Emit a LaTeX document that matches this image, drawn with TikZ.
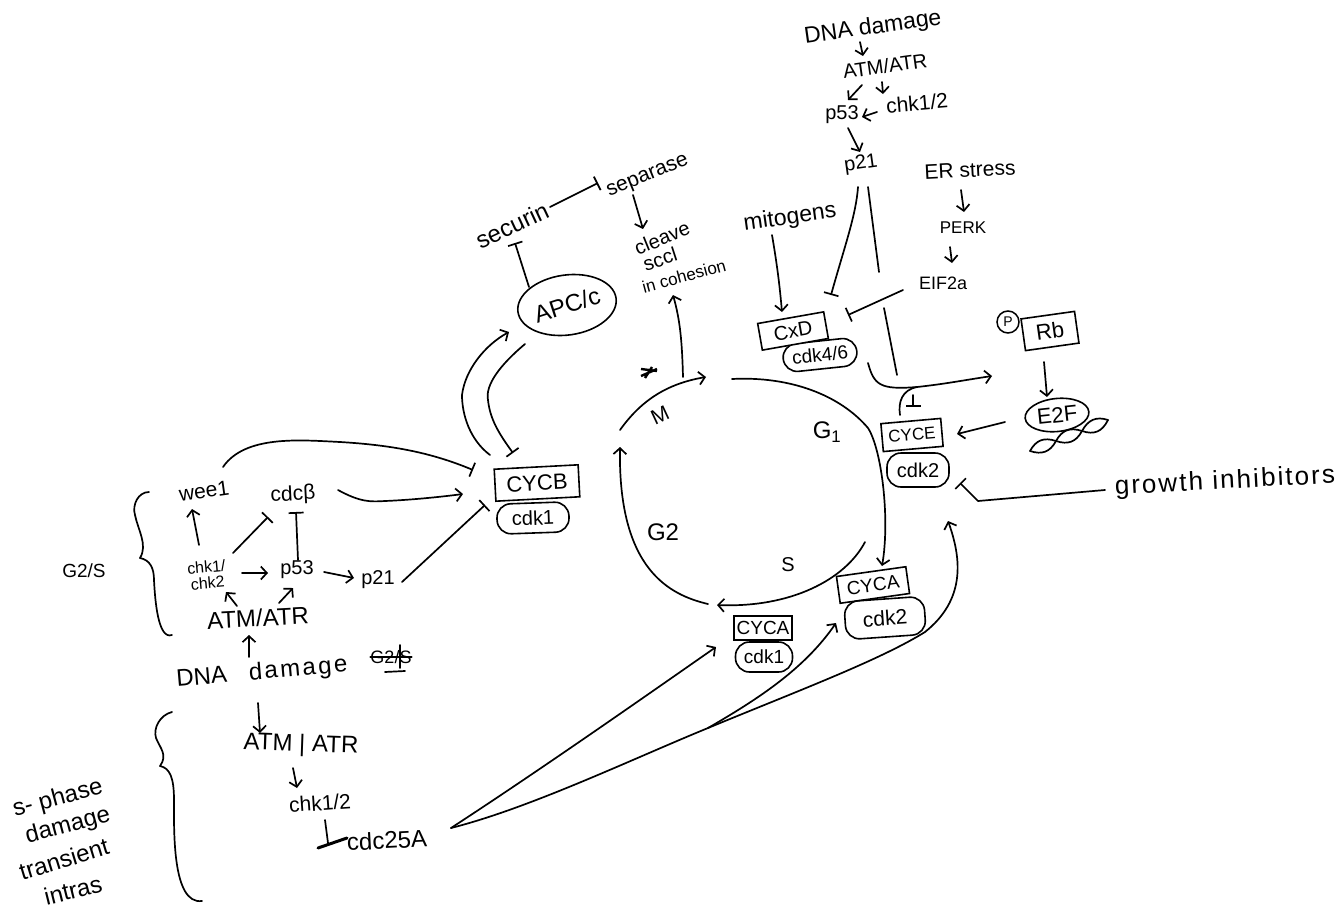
\documentclass[tikz,border=0pt]{standalone}
\usepackage{fontspec}
\setmainfont{Liberation Sans}
\usetikzlibrary{arrows.meta,shapes.geometric,calc}
\tikzset{
  sz/.style={font=\fontsize{#1}{#1}\selectfont},
  tx/.style={inner sep=0pt,align=center,sz=20},
  cbox/.style={draw,rectangle,inner sep=0pt,line width=1.6pt},
  coval/.style={draw,rectangle,rounded corners=14pt,inner sep=0pt,line width=1.6pt},
  eoval/.style={draw,ellipse,inner sep=0pt,line width=1.6pt},
  ln/.style={line width=1.7pt,line cap=round,line join=round},
  arr/.style={ln,-{Straight Barb[length=6pt,width=13pt,line width=1.7pt]}},
  tee/.style={ln,-{Bar[width=15pt,line width=1.7pt]}},
}
\begin{document}
\begin{tikzpicture}[x=1pt,y=-1pt]
\useasboundingbox (0,0) rectangle (1338,910);
% --- top cascade
\node[tx,sz=23,rotate=8] (dnaT) at (873,28) {DNA damage};
\node[tx,rotate=8] (atmT) at (885,66) {ATM/ATR};
\node[tx] (p53T) at (842,115) {p53};
\node[tx,sz=21,rotate=5] (chkT) at (917,103) {chk1/2};
\node[tx,rotate=8] (p21T) at (861,164) {p21};
\node[tx,sz=21,rotate=3] (er) at (970,170) {ER stress};
\node[tx,sz=17] (perk) at (963,228) {PERK};
\node[tx,sz=18] (eif) at (943,283) {EIF2a};
\node[tx,sz=23,rotate=8] (mito) at (790,218) {mitogens};
% --- G1 complexes
\node[coval,sz=19,rotate=6,minimum width=74pt,minimum height=28pt] (cdkF) at (820,355) {cdk4/6};
\node[cbox,sz=20,rotate=10,minimum width=67pt,minimum height=27pt,fill=white] (cxd) at (793,331) {CxD};
\node[cbox,sz=22,rotate=8,minimum width=54pt,minimum height=32pt] (rb) at (1050,331) {Rb};
\node[draw,circle,sz=14,inner sep=0pt,minimum size=22pt,line width=1.5pt,fill=white] (phos) at (1008,322) {P};
\node[eoval,sz=22,rotate=6,minimum width=64pt,minimum height=33pt] (etf) at (1057,415) {E2F};
\node[cbox,sz=17,rotate=5,minimum width=60pt,minimum height=28pt] (cyce) at (912,435) {CYCE};
\node[coval,sz=20,minimum width=62pt,minimum height=34pt] (cdkE) at (918,470) {cdk2};
\node[tx,sz=26,rotate=3] (grow) at (1225,482) {\addfontfeature{LetterSpace=8}growth inhibitors};
% --- left block
\node[tx,sz=21,rotate=8] (wee) at (204,491) {wee1};
\node[tx,sz=21,rotate=3] (cdc) at (293,495) {cdcβ};
\node[tx,sz=16,rotate=5] (chk) at (207,575) {chk1/\\chk2};
\node[tx] (p53L) at (297,570) {p53};
\node[tx] (p21L) at (378,580) {p21};
\node[tx,sz=24,rotate=3] (atmL) at (258,618) {ATM/ATR};
\node[tx,sz=24,rotate=5] (dnaL) at (262,673) {DNA\hspace{22pt}{\addfontfeature{LetterSpace=10}damage}};
\node[tx,sz=18] (crossed) at (391,657) {G2/S};
\node[tx,sz=19] (gs) at (84,571) {G2/S};
% --- lower left block
\node[tx,sz=24,rotate=-2] (atmS) at (301,745) {ATM | ATR};
\node[tx,sz=21,rotate=4] (chkS) at (320,803) {chk1/2};
\node[tx,sz=24,rotate=3] (cdcA) at (387,840) {cdc25A};
\node[tx,sz=24,rotate=15] (ph1) at (58,799) {s- phase};
\node[tx,sz=24,rotate=15] (ph2) at (68,826) {damage};
\node[tx,sz=24,rotate=17] (ph3) at (64,859) {transient};
\node[tx,sz=24,rotate=14] (ph4) at (73,890) {intras};
% --- mitosis block
\node[cbox,sz=22,rotate=3,minimum width=84pt,minimum height=32pt] (cycb) at (537,483) {CYCB};
\node[coval,sz=20,rotate=2,minimum width=72pt,minimum height=30pt] (cdkB) at (533,518) {cdk1};
\node[eoval,sz=24,rotate=8,minimum width=80pt,minimum height=60pt] (apc) at (567,305) {\rotatebox{10}{APC/c}};
\node[tx,sz=24,rotate=25] (sec) at (512,225) {securin};
\node[tx,sz=21,rotate=22] (sep) at (648,177) {separase};
\node[tx,rotate=22] (clv) at (662,238) {cleave};
\node[tx,rotate=18] (scc) at (660,259) {sccl};
\node[tx,sz=17,rotate=15] (coh) at (684,276) {in cohesion};
% --- phases
\node[tx,sz=21,rotate=25] (mL) at (660,415) {M};
\node[tx,sz=24] (gone) at (827,432) {G\textsubscript{1}};
\node[tx,sz=24] (gtwo) at (663,532) {G2};
\node[tx,sz=20] (sL) at (788,565) {S};
% --- cyclin A
\node[cbox,sz=19,minimum width=58pt,minimum height=24pt] (cycaO) at (763,628) {CYCA};
\node[coval,sz=19,minimum width=57pt,minimum height=30pt] (cdkO) at (764,657) {cdk1};
\node[cbox,sz=19,rotate=8,minimum width=70pt,minimum height=27pt] (cycaT) at (873,585) {CYCA};
\node[coval,sz=21,rotate=4,minimum width=80pt,minimum height=38pt] (cdkT) at (885,618) {cdk2};
% --- free ends
\coordinate (mS) at (620,430); \coordinate (mE) at (706,377);
\coordinate (gS) at (732,379); \coordinate (gM) at (868,428); \coordinate (gE) at (882,566);
\coordinate (sS) at (865,542); \coordinate (sE) at (717,605);
\coordinate (tS) at (708,604); \coordinate (tE) at (620,447);
\coordinate (mOut) at (683,377);
\coordinate (gapA) at (879,272); \coordinate (gapB) at (884,308); \coordinate (gapC) at (897,375);
\coordinate (tbS) at (913,395); \coordinate (tbE) at (913,407);
\coordinate (join) at (917,387);
\coordinate (branch) at (708,728); \coordinate (bendA) at (925,632);
\coordinate (teeS) at (325,820);
% --- cycle
\draw[arr] (mS) .. controls (640,402) and (665,384) .. (mE);
\draw[arr] (gS) .. controls (790,376) and (840,395) .. (gM) .. controls (882,450) and (890,520) .. (gE);
\draw[arr] (sS) .. controls (845,580) and (790,608) .. (sE);
\draw[arr] (tS) .. controls (670,595) and (618,570) .. (tE);
% --- top connectors
\draw[arr] ([shift={(-13,14)}]dnaT.center) -- ([shift={(-22,-10)}]atmT.center);
\draw[arr] ([shift={(-23,19)}]atmT.center) -- ([shift={(6,-15)}]p53T.center);
\draw[arr] ([shift={(-3,16)}]atmT.center) -- ([shift={(-34,-9)}]chkT.center);
\draw[arr] ([shift={(-40,9)}]chkT.center) -- ([shift={(20,2)}]p53T.center);
\draw[arr] ([shift={(6,13)}]p53T.center) -- ([shift={(-1,-12)}]p21T.center);
\draw[tee] ([shift={(-3,23)}]p21T.center) .. controls (856,215) and (845,245) .. ([shift={(38,-36)}]cxd.center);
\draw[ln] ([shift={(7,23)}]p21T.center) -- (gapA);
\draw[ln] (gapB) -- (gapC);
\draw[tee] (tbS) -- (tbE);
\draw[arr] ([shift={(-18,17)}]mito.center) .. controls (778,270) and (780,290) .. ([shift={(-11,-19)}]cxd.center);
\draw[tee] ([shift={(-40,7)}]eif.center) -- ([shift={(55,-16)}]cxd.center);
\draw[arr] ([shift={(-9,20)}]er.center) -- ([shift={(1,-16)}]perk.center);
\draw[arr] ([shift={(-13,19)}]perk.center) -- ([shift={(9,-20)}]eif.center);
\draw[arr] ([shift={(48,8)}]cdkF.center) .. controls (874,385) and (880,390) .. (join) .. controls (945,384) and (965,380) .. ([shift={(-58,45)}]rb.center);
\draw[ln] ([shift={(-12,-20)}]cyce.center) .. controls (898,402) and (902,390) .. (join);
\draw[arr] ([shift={(-6,31)}]rb.center) -- ([shift={(-10,-18)}]etf.center);
\draw[arr] ([shift={(-52,7)}]etf.center) -- ([shift={(45,-1)}]cyce.center);
\draw[tee] ([shift={(-120,8)}]grow.center) -- (978,501) -- ([shift={(42,13)}]cdkE.center);
% DNA helix
\draw[ln] (1030,451) .. controls (1036,440) and (1044,437) .. (1056,441) .. controls (1068,445) and (1076,442) .. (1082,431) .. controls (1088,420) and (1096,416) .. (1108,420);
\draw[ln] (1030,451) .. controls (1042,455) and (1050,452) .. (1056,441) .. controls (1062,430) and (1070,427) .. (1082,431) .. controls (1094,435) and (1102,432) .. (1108,420);
% --- left connectors
\draw[arr] ([shift={(-8,-30)}]chk.center) -- ([shift={(-12,18)}]wee.center);
\draw[tee] ([shift={(26,-22)}]chk.center) -- ([shift={(-25,22)}]cdc.center);
\draw[tee] ([shift={(1,-10)}]p53L.center) -- ([shift={(3,17)}]cdc.center);
\draw[arr] ([shift={(35,-2)}]chk.center) -- ([shift={(-29,3)}]p53L.center);
\draw[arr] ([shift={(27,2)}]p53L.center) -- ([shift={(-24,-2)}]p21L.center);
\draw[arr] ([shift={(-21,-12)}]atmL.center) -- ([shift={(19,17)}]chk.center);
\draw[arr] ([shift={(21,-15)}]atmL.center) -- ([shift={(-4,18)}]p53L.center);
\draw[arr] ([shift={(-13,-16)}]dnaL.center) -- ([shift={(-9,17)}]atmL.center);
\draw[tee] ([shift={(19,-24)}]wee.center) .. controls (245,435) and (300,440) .. (340,442) .. controls (390,445) and (430,452) .. ([shift={(-64,-13)}]cycb.center);
\draw[arr] ([shift={(45,-5)}]cdc.center) .. controls (360,502) and (370,502) .. (385,501) .. controls (410,500) and (440,497) .. ([shift={(-74,11)}]cycb.center);
\draw[tee] ([shift={(24,2)}]p21L.center) -- ([shift={(-52,22)}]cycb.center);
\draw[ln] (crossed.west) -- (crossed.east);
\draw[ln] ([shift={(9,-12)}]crossed.center) -- ([shift={(9,11)}]crossed.center);
\draw[ln] ([shift={(-6,15)}]crossed.center) -- ([shift={(14,14)}]crossed.center);
% braces
\draw[ln] (149,492) .. controls (138,492) and (132,505) .. (135,515) .. controls (138,530) and (148,545) .. (140,558) .. controls (150,560) and (154,568) .. (154,580) .. controls (155,600) and (158,640) .. (172,635);
\draw[ln] (172,712) .. controls (160,715) and (153,728) .. (156,738) .. controls (160,748) and (168,755) .. (160,766) .. controls (170,768) and (174,778) .. (174,800) .. controls (174,830) and (172,905) .. (202,901);
% --- lower left connectors
\draw[arr] ([shift={(-4,30)}]dnaL.center) -- ([shift={(-41,-12)}]atmS.center);
\draw[arr] ([shift={(-8,23)}]atmS.center) -- ([shift={(-23,-15)}]chkS.center);
\draw[ln] (teeS) -- ([shift={(-59,3)}]cdcA.center);
\draw[line width=3pt,line cap=round] ([shift={(-69,8)}]cdcA.center) -- ([shift={(-40,-2)}]cdcA.center);
\draw[arr] ([shift={(64,-12)}]cdcA.center) .. controls (540,770) and (640,700) .. ([shift={(-47,19)}]cycaO.center);
\draw[ln] ([shift={(64,-12)}]cdcA.center) .. controls (530,808) and (630,760) .. (branch);
\draw[arr] (branch) .. controls (760,698) and (805,668) .. ([shift={(-49,5)}]cdkT.center);
\draw[arr] (branch) .. controls (800,690) and (880,660) .. (bendA) .. controls (965,600) and (962,560) .. ([shift={(30,51)}]cdkE.center);
% --- mitosis connectors
\draw[arr] ([shift={(-47,-28)}]cycb.center) .. controls (470,440) and (462,415) .. (462,395) .. controls (465,370) and (485,345) .. ([shift={(-58,27)}]apc.center);
\draw[tee] ([shift={(-42,39)}]apc.center) .. controls (500,365) and (485,385) .. (488,400) .. controls (490,420) and (500,435) .. ([shift={(-24,-30)}]cycb.center);
\draw[tee] ([shift={(-38,-18)}]apc.center) -- ([shift={(3,18)}]sec.center);
\draw[tee] ([shift={(38,-18)}]sec.center) -- ([shift={(-50,6)}]sep.center);
\draw[arr] ([shift={(-15,18)}]sep.center) -- ([shift={(-19,-9)}]clv.center);
\draw[arr] (mOut) .. controls (682,340) and (680,320) .. ([shift={(-11,19)}]coh.center);
% blot near M
\draw[line width=2.4pt] (641,369) -- (657,371) (645,378) -- (652,367) (641,376) -- (657,369);
\end{tikzpicture}
\end{document}
